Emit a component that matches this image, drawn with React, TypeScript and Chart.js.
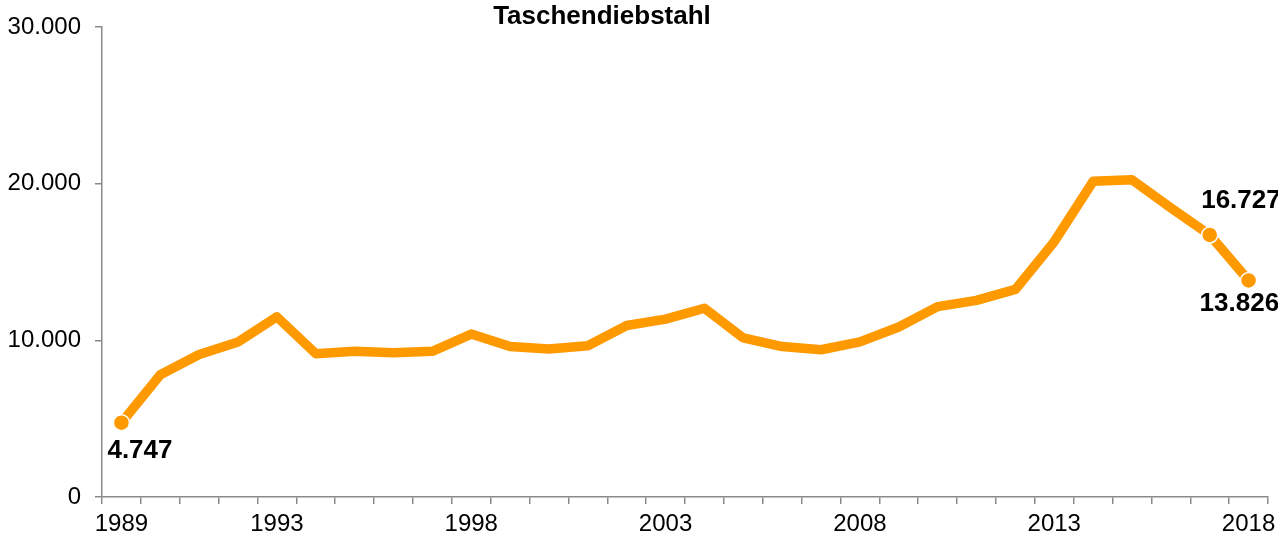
import React, { useEffect, useRef } from "react";
import { Chart, registerables } from "chart.js";

Chart.register(...registerables);

const years: string[] = [
  "1989", "1990", "1991", "1992", "1993", "1994", "1995", "1996", "1997", "1998",
  "1999", "2000", "2001", "2002", "2003", "2004", "2005", "2006", "2007", "2008",
  "2009", "2010", "2011", "2012", "2013", "2014", "2015", "2016", "2017", "2018",
];
const cases: number[] = [
  4747, 7800, 9100, 9900, 11500, 9150, 9300, 9200, 9300, 10400,
  9600, 9450, 9650, 10950, 11350, 12050, 10150, 9600, 9400, 9900,
  10850, 12150, 12550, 13250, 16300, 20150, 20250, 18450, 16727, 13826,
];
const shownYears: string[] = ["1989", "1993", "1998", "2003", "2008", "2013", "2018"];
const yTicks: number[] = [0, 10000, 20000, 30000];
const labelledIndices: number[] = [0, 28, 29];
const titleText = "Taschendiebstahl";

const fmt = (v: number) => String(Math.round(v)).replace(/\B(?=(\d{3})+(?!\d))/g, ".");

const FONT = "'Liberation Sans', Arial, sans-serif";
const ORANGE = "#FF9900";
const AXIS = "#8a8a8a";

export default function App() {
  const ref = useRef<HTMLCanvasElement>(null);
  useEffect(() => {
    if (!ref.current) return;
    const labelOffsets: Record<number, [number, number]> = {
      0: [-14, 35],
      28: [-8.5, -27],
      29: [-49, 31],
    };
    const overlay = {
      id: "overlay",
      afterDatasetsDraw(chart: any) {
        const { ctx, scales } = chart;
        ctx.save();
        ctx.fillStyle = "#000";
        ctx.font = `bold 26px ${FONT}`;
        ctx.textAlign = "left";
        ctx.textBaseline = "alphabetic";
        labelledIndices.forEach((i) => {
          const x = scales.x.getPixelForValue(i);
          const y = scales.y.getPixelForValue(cases[i]);
          const [dx, dy] = labelOffsets[i];
          ctx.fillText(fmt(cases[i]), x + dx, y + dy);
        });
        ctx.font = `bold 26px ${FONT}`;
        ctx.textAlign = "center";
        ctx.fillText(titleText, 602, 24);
        ctx.restore();
      },
    };
    const chart = new Chart(ref.current, {
      type: "line",
      data: {
        labels: years,
        datasets: [
          {
            data: cases,
            borderColor: ORANGE,
            backgroundColor: ORANGE,
            borderWidth: 9.5,
            borderJoinStyle: "round",
            borderCapStyle: "round",
            tension: 0,
            pointRadius: years.map((_, i) => (labelledIndices.includes(i) ? 8 : 0)),
            pointBackgroundColor: ORANGE,
            pointBorderColor: "#ffffff",
            pointBorderWidth: 1.5,
            clip: false as any,
          },
        ],
      },
      options: {
        animation: false,
        responsive: false,
        maintainAspectRatio: false,
        layout: { padding: { top: 27, right: 10, left: 0, bottom: 0 } },
        plugins: { legend: { display: false }, tooltip: { enabled: false }, title: { display: false } },
        scales: {
          x: {
            type: "category",
            offset: true,
            afterFit: (s: any) => { s.height = 41; s.paddingLeft = 0; s.paddingRight = 0; },
            grid: { offset: true, drawOnChartArea: false, drawTicks: true, tickLength: 7, color: AXIS, lineWidth: 1.5 },
            border: { color: AXIS, width: 1.5 },
            ticks: {
              autoSkip: false,
              maxRotation: 0,
              padding: 6,
              color: "#000",
              font: { family: FONT, size: 24 },
              callback: (_v: any, i: number) => (shownYears.includes(years[i]) ? years[i] : ""),
            },
          },
          y: {
            min: 0,
            max: 30000,
            afterFit: (s: any) => { s.width = 102; s.paddingTop = 0; s.paddingBottom = 0; },
            afterBuildTicks: (s: any) => { s.ticks = yTicks.map((v) => ({ value: v })); },
            grid: { drawOnChartArea: false, drawTicks: true, tickLength: 7, color: AXIS, lineWidth: 1.5 },
            border: { color: AXIS, width: 1.5 },
            ticks: {
              padding: 14,
              color: "#000",
              font: { family: FONT, size: 24 },
              callback: (v: any) => fmt(Number(v)),
            },
          },
        },
      },
      plugins: [overlay],
    });
    return () => chart.destroy();
  }, []);
  return (
    <div style={{ position: "fixed", left: 0, top: 0, width: 1278, height: 538, background: "#fff" }}>
      <canvas ref={ref} width={1278} height={538} style={{ width: 1278, height: 538 }} />
    </div>
  );
}
